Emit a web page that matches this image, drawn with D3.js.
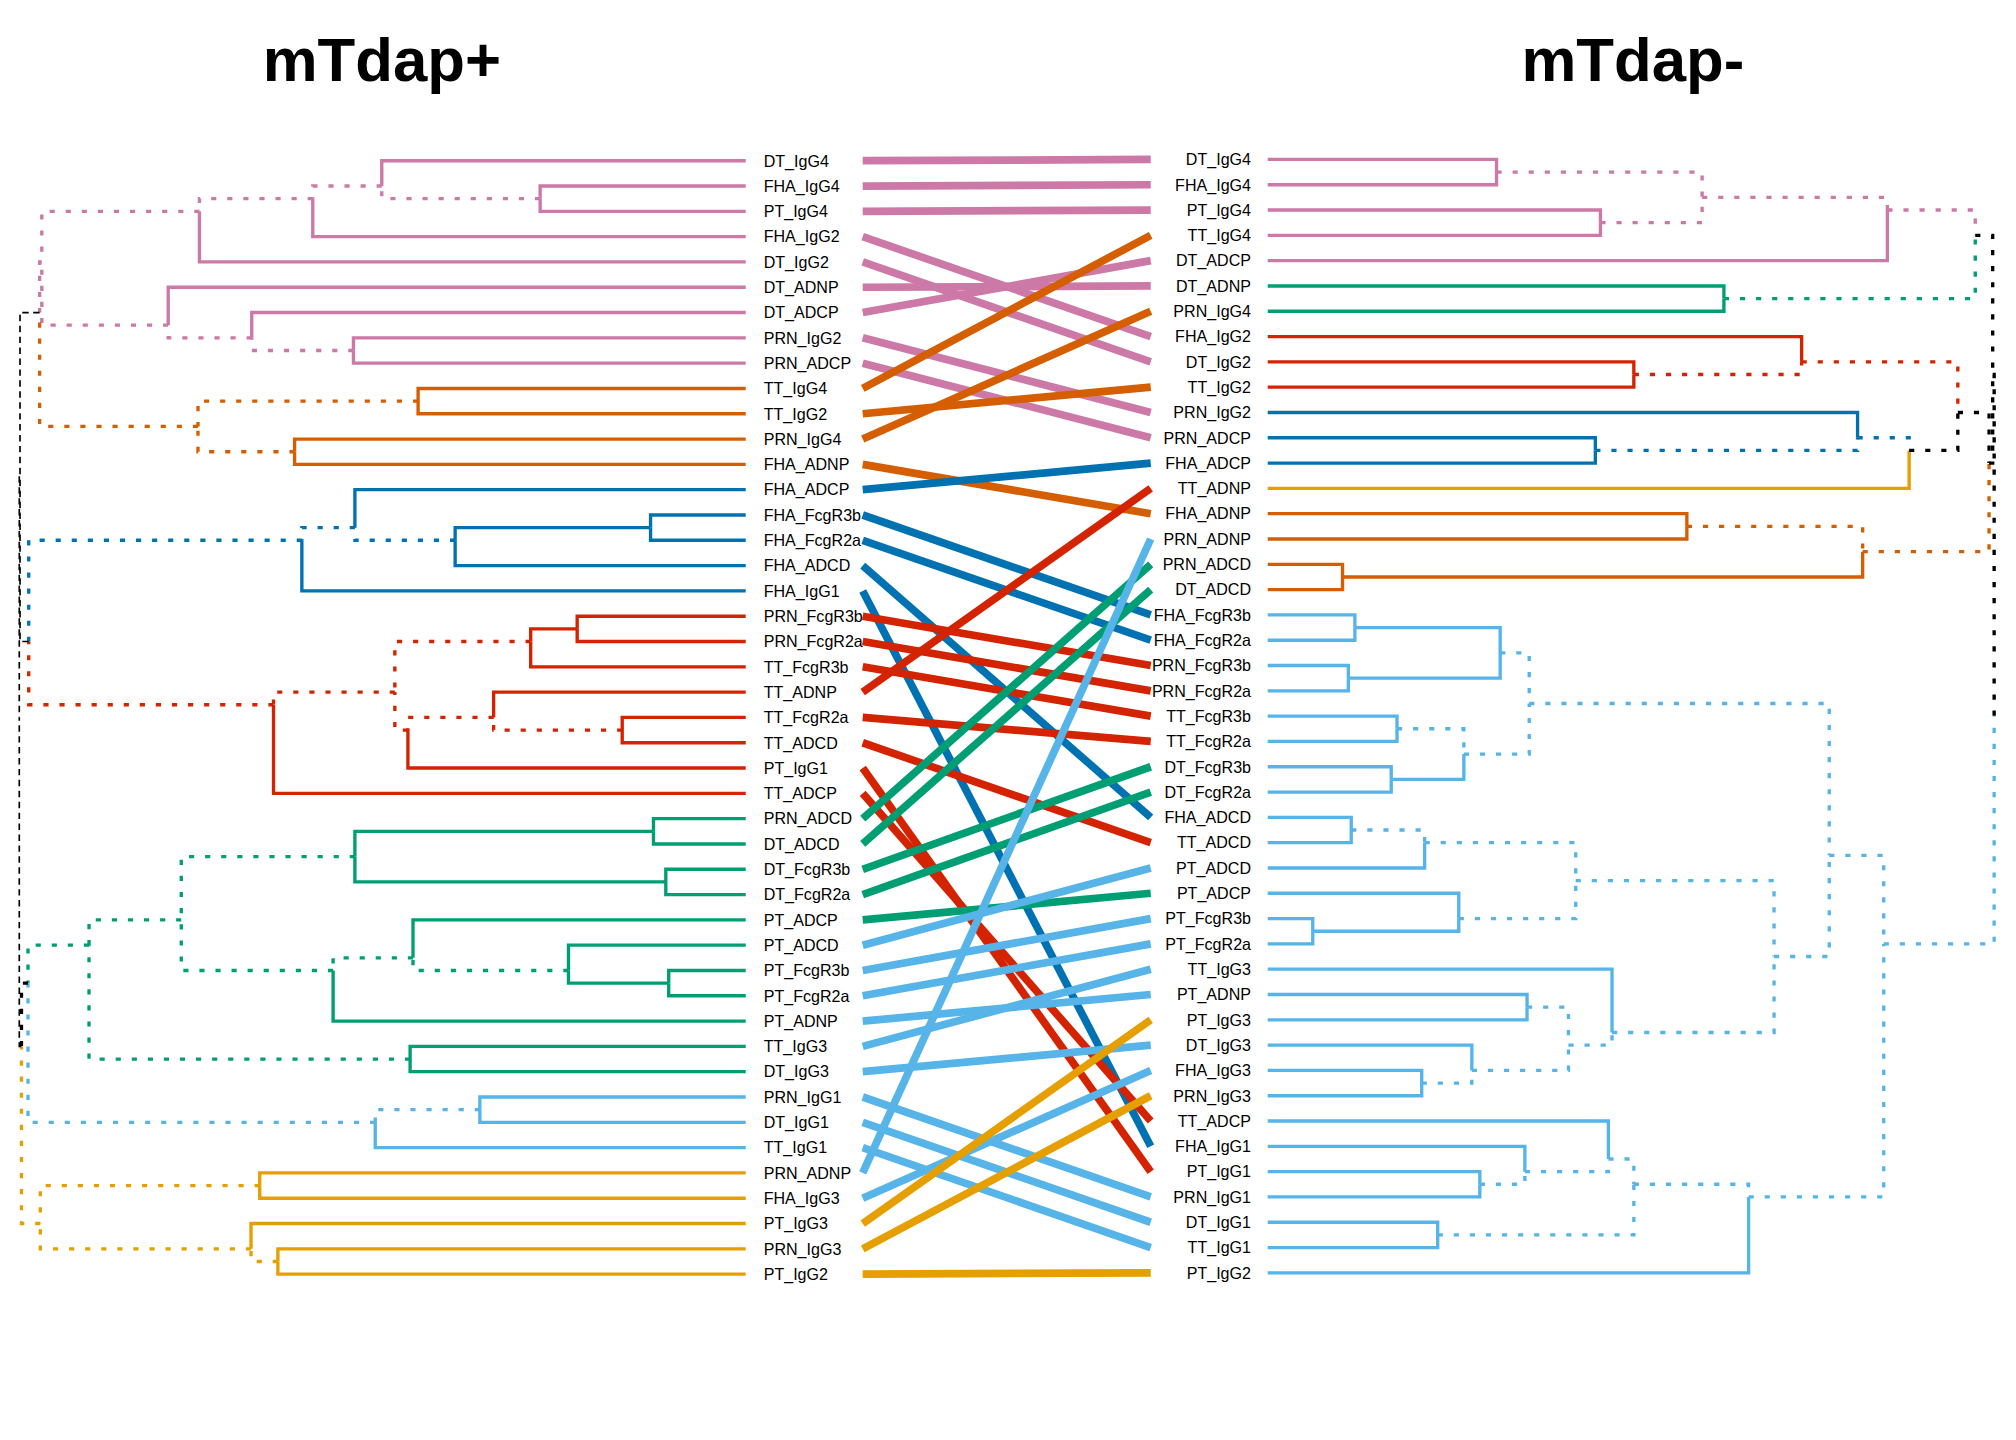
<!DOCTYPE html>
<html>
<head>
<meta charset="utf-8">
<script src="https://cdn.jsdelivr.net/npm/d3@7"></script>
<style>
	html, body { margin: 0; padding: 0; background: #fff; }
	svg { display: block; }
	text { font-family: "Liberation Sans", Arial, sans-serif; fill: #000; }
</style>
</head>
<body>
<div id="graphs"></div>
<script>
var titles = ["mTdap+", "mTdap-"];

// leaves, top to bottom
var leftLabels = ["DT_IgG4", "FHA_IgG4", "PT_IgG4", "FHA_IgG2", "DT_IgG2", "DT_ADNP", "DT_ADCP", "PRN_IgG2", "PRN_ADCP",
	"TT_IgG4", "TT_IgG2", "PRN_IgG4", "FHA_ADNP", "FHA_ADCP", "FHA_FcgR3b", "FHA_FcgR2a", "FHA_ADCD", "FHA_IgG1",
	"PRN_FcgR3b", "PRN_FcgR2a", "TT_FcgR3b", "TT_ADNP", "TT_FcgR2a", "TT_ADCD", "PT_IgG1", "TT_ADCP",
	"PRN_ADCD", "DT_ADCD", "DT_FcgR3b", "DT_FcgR2a", "PT_ADCP", "PT_ADCD", "PT_FcgR3b", "PT_FcgR2a", "PT_ADNP",
	"TT_IgG3", "DT_IgG3", "PRN_IgG1", "DT_IgG1", "TT_IgG1", "PRN_ADNP", "FHA_IgG3", "PT_IgG3", "PRN_IgG3", "PT_IgG2"];

var rightLabels = ["DT_IgG4", "FHA_IgG4", "PT_IgG4", "TT_IgG4", "DT_ADCP", "DT_ADNP", "PRN_IgG4", "FHA_IgG2", "DT_IgG2",
	"TT_IgG2", "PRN_IgG2", "PRN_ADCP", "FHA_ADCP", "TT_ADNP", "FHA_ADNP", "PRN_ADNP", "PRN_ADCD", "DT_ADCD",
	"FHA_FcgR3b", "FHA_FcgR2a", "PRN_FcgR3b", "PRN_FcgR2a", "TT_FcgR3b", "TT_FcgR2a", "DT_FcgR3b", "DT_FcgR2a",
	"FHA_ADCD", "TT_ADCD", "PT_ADCD", "PT_ADCP", "PT_FcgR3b", "PT_FcgR2a", "TT_IgG3", "PT_ADNP", "PT_IgG3",
	"DT_IgG3", "FHA_IgG3", "PRN_IgG3", "TT_ADCP", "FHA_IgG1", "PT_IgG1", "PRN_IgG1", "DT_IgG1", "TT_IgG1", "PT_IgG2"];

// cluster of each leaf (1 pink, 2 orange, 3 blue, 4 red, 5 green, 6 sky, 7 yellow)
var leftGroup  = [1,1,1,1,1,1,1,1,1, 2,2,2,2, 3,3,3,3,3, 4,4,4,4,4,4,4,4,
	5,5,5,5,5,5,5,5,5,5,5, 6,6,6, 7,7,7,7,7];
var rightGroup = [1,1,1,1,1, 5,5, 4,4,4, 3,3,3, 7, 2,2,2,2,
	6,6,6,6,6,6,6,6,6,6,6,6,6,6,6,6,6,6,6,6,6,6,6,6,6,6,6];
// colour of each connecting line, in left order
var lineGroup  = [1,1,1,1,1,1,1,1,1, 2,2,2,2, 3,3,3,3,3, 4,4,4,4,4,4,4,4,
	5,5,5,5,5, 6,6,6,6,6,6,6,6,6,6,6, 7,7,7];

// hclust style merges: negative = leaf number, positive = earlier merge row
var leftMerge = [[-2,-3],[-1,1],[2,-4],[3,-5],[-8,-9],[-7,5],[-6,6],[4,7],
	[-10,-11],[-12,-13],[9,10],[8,11],
	[-15,-16],[13,-17],[-14,14],[15,-18],
	[-19,-20],[17,-21],[-23,-24],[-22,19],[20,-25],[18,21],[22,-26],[16,23],
	[-27,-28],[-29,-30],[25,26],[-33,-34],[-32,28],[-31,29],[30,-35],[27,31],[-36,-37],[32,33],
	[-38,-39],[35,-40],[34,36],
	[-41,-42],[-44,-45],[-43,39],[38,40],[37,41],
	[12,24],[43,42]];
var leftHeight = [0.283,0.501,0.596,0.752,0.540,0.680,0.795,0.969,
	0.451,0.621,0.754,0.972,
	0.131,0.400,0.538,0.611,
	0.232,0.296,0.170,0.347,0.465,0.483,0.650,0.987,
	0.127,0.110,0.538,0.106,0.244,0.458,0.568,0.777,0.462,0.904,
	0.366,0.510,0.988,
	0.669,0.644,0.681,0.971,0.997,
	0.999,1.000];

var rightMerge = [[-1,-2],[-3,-4],[1,2],[3,-5],[-6,-7],[4,5],
	[-9,-10],[-8,7],[-12,-13],[-11,9],[10,-14],[8,11],
	[-15,-16],[-17,-18],[13,14],[12,15],[6,16],
	[-19,-20],[-21,-22],[18,19],[-23,-24],[-25,-26],[21,22],[20,23],
	[-27,-28],[25,-29],[-31,-32],[-30,27],[26,28],
	[-34,-35],[-37,-38],[-36,31],[30,32],[-33,33],[29,34],[24,35],
	[-41,-42],[-40,37],[-39,38],[-43,-44],[39,40],[41,-45],
	[36,42],[17,43]];
var rightHeight = [0.315,0.458,0.598,0.853,0.628,0.974,
	0.504,0.735,0.451,0.812,0.883,0.950,
	0.577,0.103,0.819,0.993,0.998,
	0.120,0.111,0.320,0.178,0.170,0.270,0.360,
	0.115,0.216,0.062,0.263,0.424,
	0.357,0.212,0.281,0.414,0.474,0.697,0.773,
	0.292,0.354,0.469,0.234,0.504,0.662,
	0.848,1.000];

var palette = {0: "#000000", 1: "#CC79A7", 2: "#D55E00", 3: "#0072B2", 4: "#D42300",
	5: "#009E73", 6: "#56B4E9", 7: "#E69F00"};

function buildTree(labels, merge, height, group) {
	var leaves = labels.map(function(l, i) {
		return {leaf: true, lo: i, hi: i, h: 0, members: [l], group: group[i]};
	});
	var nodes = [];
	merge.forEach(function(m, k) {
		var kids = m.map(function(c) { return c < 0 ? leaves[-c - 1] : nodes[c - 1]; });
		var node = {
			leaf: false, row: k, h: height[k], children: kids,
			lo: d3.min(kids, function(d) { return d.lo; }),
			hi: d3.max(kids, function(d) { return d.hi; }),
			members: kids[0].members.concat(kids[1].members),
			group: kids[0].group === kids[1].group ? kids[0].group : 0
		};
		kids.forEach(function(c) { c.parent = node; });
		nodes.push(node);
	});
	var all = leaves.concat(nodes);
	all.forEach(function(d) {
		d.pos = (d.lo + d.hi) / 2;
		d.key = d.members.slice().sort().join("|");
	});
	return {all: all, nodes: nodes, keys: new Set(nodes.map(function(d) { return d.key; }))};
}

function drawTree(svg, tree, other, xScale, yScale, thinTop) {
	var nRows = tree.nodes.length;
	var edges = tree.all.filter(function(d) { return d.parent; });

	svg.append("g").selectAll("path")
		.data(edges)
		.enter().append("path")
		.attr("fill", "none")
		.attr("stroke", function(d) { return palette[d.group]; })
		.attr("d", function(d) {
			return "M" + xScale(d.h) + "," + yScale(d.pos) +
				"H" + xScale(d.parent.h) + "V" + yScale(d.parent.pos);
		})
		.each(function(d) {
			var el = d3.select(this);
			var distinct = !d.leaf && !other.keys.has(d.key);
			var thin = d.parent.row >= nRows - thinTop;
			if (thin) {
				el.attr("stroke-width", 1.3).attr("stroke-dasharray", "5,3.5");
			} else {
				el.attr("stroke-width", 2.6);
				if (distinct) el.attr("stroke-dasharray", "4,8.5");
			}
		});
}

function loadGraph() {
	var width = 1568, height = 1120;
	var svg = d3.select("#graphs").append("svg")
		.attr("width", 2016)
		.attr("height", 1440)
		.attr("viewBox", "0 0 " + width + " " + height);

	var leftTree  = buildTree(leftLabels, leftMerge, leftHeight, leftGroup);
	var rightTree = buildTree(rightLabels, rightMerge, rightHeight, rightGroup);

	var yLeft  = d3.scaleLinear().domain([0, leftLabels.length - 1]).range([125, 991]);
	var yRight = d3.scaleLinear().domain([0, rightLabels.length - 1]).range([124, 990]);
	var xLeft  = d3.scaleLinear().domain([0, 1]).range([580, 15]);
	var xRight = d3.scaleLinear().domain([0, 1]).range([986, 1551]);

	// connecting lines
	var rightIndex = {};
	rightLabels.forEach(function(l, i) { rightIndex[l] = i; });
	svg.append("g").selectAll("line")
		.data(leftLabels)
		.enter().append("line")
		.attr("x1", 671)
		.attr("x2", 895)
		.attr("y1", function(d, i) { return yLeft(i); })
		.attr("y2", function(d) { return yRight(rightIndex[d]); })
		.attr("stroke", function(d, i) { return palette[lineGroup[i]]; })
		.attr("stroke-width", 6);

	drawTree(svg, leftTree, rightTree, xLeft, yLeft, 2);
	drawTree(svg, rightTree, leftTree, xRight, yRight, 0);

	svg.append("g").selectAll("text")
		.data(leftLabels)
		.enter().append("text")
		.attr("x", 594)
		.attr("y", function(d, i) { return yLeft(i); })
		.attr("dy", "0.36em")
		.style("font-size", "12.5px")
		.text(function(d) { return d; });

	svg.append("g").selectAll("text")
		.data(rightLabels)
		.enter().append("text")
		.attr("x", 973)
		.attr("y", function(d, i) { return yRight(i); })
		.attr("dy", "0.36em")
		.attr("text-anchor", "end")
		.style("font-size", "12.5px")
		.text(function(d) { return d; });

	svg.selectAll(".title")
		.data(titles)
		.enter().append("text")
		.attr("class", "title")
		.attr("x", function(d, i) { return i === 0 ? 297 : 1270; })
		.attr("y", 63)
		.attr("text-anchor", "middle")
		.style("font-size", "48px")
		.style("font-weight", "bold")
		.text(function(d) { return d; });
}

loadGraph();
</script>
</body>
</html>
